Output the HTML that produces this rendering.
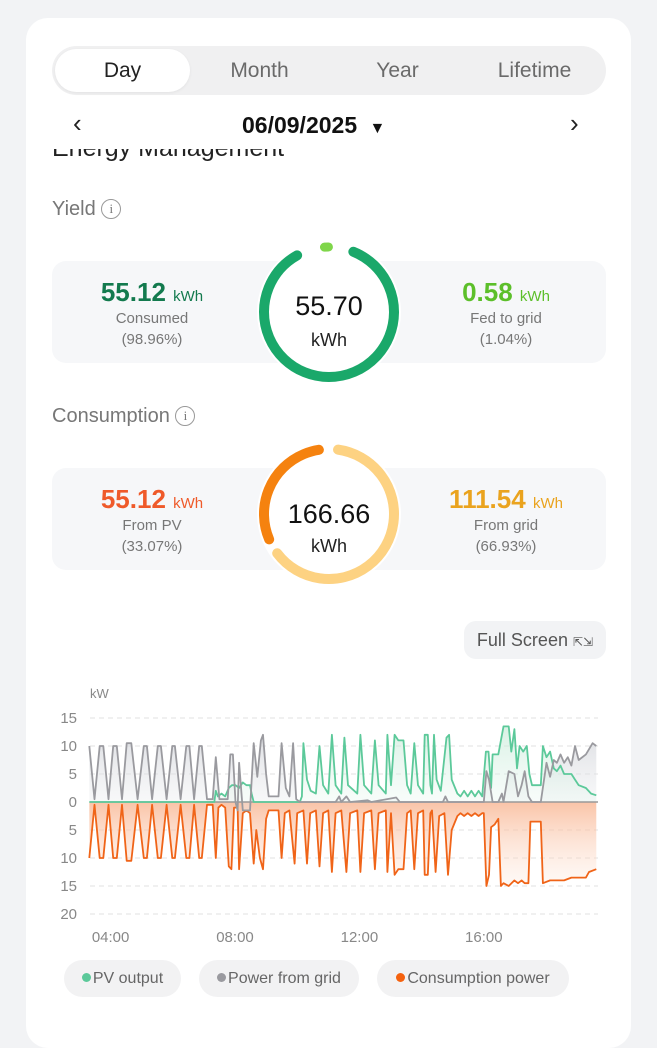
<!DOCTYPE html>
<html><head><meta charset="utf-8">
<style>
*{box-sizing:border-box;margin:0;padding:0}
body{width:657px;height:1024px;background:#f2f3f5;font-family:"Liberation Sans",sans-serif;position:relative;overflow:hidden}
.abs{position:absolute}
.card{left:26px;top:18px;width:605px;height:1030px;background:#fff;border-radius:22px}
.tabs{left:52px;top:46px;width:554px;height:49px;background:#f0f0f1;border-radius:25px}
.tab{position:absolute;top:0;height:49px;line-height:49px;font-size:21px;color:#6a6a6a;text-align:center}
.pill{left:3px;top:3px;width:135px;height:43px;background:#fff;border-radius:22px;box-shadow:0 1px 3px rgba(0,0,0,.06)}
.box{left:52px;width:554px;height:102px;background:#f6f7f9;border-radius:14px}
.big{font-size:26px;font-weight:bold}
.unit{font-size:15px;font-weight:normal}
.sub{font-size:15px;color:#777;line-height:21px}
.side{position:absolute;width:180px;text-align:center}
.lg{top:960px;height:37px;background:#f2f2f3;border-radius:19px;font-size:16px;color:#666;line-height:37px;text-align:center}
.dot{display:inline-block;width:9px;height:9px;border-radius:50%;margin-right:2px;vertical-align:1px}
</style></head><body>
<div class="abs card"></div>
<div class="abs" style="left:52px;top:134px;font-size:25px;line-height:29px;color:#222;white-space:nowrap">Energy Management</div>
<div class="abs" style="left:40px;top:100px;width:580px;height:49px;background:#fff"></div>
<div class="abs tabs">
  <div class="abs pill"></div>
  <div class="tab" style="left:3px;width:135px;color:#222">Day</div>
  <div class="tab" style="left:140px;width:135px">Month</div>
  <div class="tab" style="left:278px;width:135px">Year</div>
  <div class="tab" style="left:415px;width:135px">Lifetime</div>
</div>
<div class="abs" style="left:73px;top:108px;font-size:26px;color:#222">&#8249;</div>
<div class="abs" style="left:242px;top:112px;font-size:23px;font-weight:bold;color:#111">06/09/2025 <span style="font-size:16px;margin-left:6px">&#9660;</span></div>
<div class="abs" style="left:570px;top:108px;font-size:26px;color:#222">&#8250;</div>

<div class="abs" style="left:52px;top:198px;font-size:20px;color:#777">Yield <span style="display:inline-block;width:20px;height:20px;border:1.5px solid #999;border-radius:50%;font-size:13px;text-align:center;line-height:17px;vertical-align:2px;font-family:'Liberation Serif',serif">i</span></div>
<div class="abs box" style="top:261px">
  <div class="side" style="left:10px;top:16px"><div class="big" style="color:#137a4e">55.12 <span class="unit">kWh</span></div><div class="sub">Consumed<br>(98.96%)</div></div>
  <div class="side" style="left:364px;top:16px"><div class="big" style="color:#5cbf2a">0.58 <span class="unit">kWh</span></div><div class="sub">Fed to grid<br>(1.04%)</div></div>
</div>
<svg class="abs" style="left:254px;top:237px" width="150" height="150">
  <circle cx="75" cy="75" r="72" fill="#fff"/>
  <circle cx="75" cy="75" r="65" fill="none" stroke="#1aa86a" stroke-width="10" stroke-linecap="round" stroke-dasharray="350 58.4" transform="rotate(-68 75 75)"/>
  <circle cx="75" cy="75" r="65" fill="none" stroke="#7fd64a" stroke-width="9" stroke-linecap="round" stroke-dasharray="4 404.4" transform="rotate(-94 75 75)"/>
  <text x="75" y="78" text-anchor="middle" font-size="27" fill="#111" font-family="Liberation Sans">55.70</text>
  <text x="75" y="109" text-anchor="middle" font-size="18" fill="#222" font-family="Liberation Sans">kWh</text>
</svg>

<div class="abs" style="left:52px;top:405px;font-size:20px;color:#777">Consumption <span style="display:inline-block;width:20px;height:20px;border:1.5px solid #999;border-radius:50%;font-size:13px;text-align:center;line-height:17px;vertical-align:2px;font-family:'Liberation Serif',serif">i</span></div>
<div class="abs box" style="top:468px">
  <div class="side" style="left:10px;top:16px"><div class="big" style="color:#ef5a2a">55.12 <span class="unit">kWh</span></div><div class="sub">From PV<br>(33.07%)</div></div>
  <div class="side" style="left:364px;top:16px"><div class="big" style="color:#eaa31e">111.54 <span class="unit">kWh</span></div><div class="sub">From grid<br>(66.93%)</div></div>
</div>
<svg class="abs" style="left:254px;top:439px" width="150" height="150">
  <circle cx="75" cy="75" r="72" fill="#fff"/>
  <circle cx="75" cy="75" r="65" fill="none" stroke="#fdd282" stroke-width="10" stroke-linecap="round" stroke-dasharray="255 153.4" transform="rotate(-82 75 75)"/>
  <circle cx="75" cy="75" r="65" fill="none" stroke="#f5820f" stroke-width="10" stroke-linecap="round" stroke-dasharray="118 290.4" transform="rotate(157 75 75)"/>
  <text x="75" y="84" text-anchor="middle" font-size="27" fill="#111" font-family="Liberation Sans">166.66</text>
  <text x="75" y="113" text-anchor="middle" font-size="18" fill="#222" font-family="Liberation Sans">kWh</text>
</svg>

<div class="abs" style="left:464px;top:621px;width:142px;height:38px;background:#f2f3f5;border-radius:12px;font-size:18px;color:#555;line-height:38px;text-align:center">Full Screen <span style="font-size:12px">&#8689;&#8690;</span></div>

<svg class="abs" style="left:0;top:680px" width="657" height="270" id="chart"></svg>

<div class="abs lg" style="left:64px;width:117px"><span class="dot" style="background:#5cc99a"></span>PV output</div>
<div class="abs lg" style="left:199px;width:160px"><span class="dot" style="background:#9a9a9f"></span>Power from grid</div>
<div class="abs lg" style="left:377px;width:192px"><span class="dot" style="background:#f5620f"></span>Consumption power</div>

<script>
const yTicks=[15,10,5,0,-5,-10,-15,-20];
const xTickLabels=["04:00","08:00","12:00","16:00"];
const xTickMinutes=[240,480,720,960];
const gridMin=[199,209,219,226,236,245,252,262,271,280,292,304,310,320,331,337,348,359,364,375,386,392,401,411,416,426,437,443,450,466,471,476,481,485,488,495,509,516,523,530,534,540,545,564,570,578,585,592,598,605,674,681,685,695,702,736,743,791,798,881,886,891,960,965,970,977,988,995,998,1008,1019,1026,1033,1039,1046,1053,1070,1081,1088,1095,1101,1108,1115,1122,1129,1136,1143,1157,1170,1177];
const gridVal=[10,0.5,10,10,0.5,10,10,0.5,10.5,10.5,0.5,10,10,0.5,10,10,0.5,10,10,0.5,10,10,0.5,10,10,0.5,0.5,8,0.5,0.5,8.5,8.5,0,-1.5,7,-1.5,-1.5,10.5,4.5,11,12,5,1,1,10.5,2.5,1,10.5,0.5,0,0,1,0,1,0,0.3,0,0.8,0,0,1,0,0,5.5,4,0,0,1.5,0,5.5,5,1,3,5.5,1,0,0,7,4.5,7.5,7,8.5,7,8,6.5,10,7.5,8.5,10.5,10];
const pvMin=[199,440,443,447,454,461,468,474,481,488,495,502,509,512,516,605,609,612,619,626,636,643,650,660,667,674,685,691,698,716,722,729,743,750,757,771,774,781,788,795,805,812,819,826,833,843,846,852,857,860,864,869,877,888,893,898,909,915,922,929,936,943,950,957,964,969,974,977,988,998,1008,1013,1019,1024,1029,1036,1043,1048,1053,1070,1074,1081,1088,1095,1101,1108,1115,1129,1136,1143,1157,1167,1177];
const pvVal=[0,0,2,1,1.5,1,2.5,3,3,2.5,3.5,3,3,1.5,0,0,1,10.5,4,2,1.5,10,3,1.5,12,3,1.5,11.5,3,1.5,12,3,1.5,11,3,1.5,12,3,12,11,11,3,1.5,10.5,3,1.5,12,12,3,1.5,12,4,2,11.5,12,4,1.5,1,2,1,2,1,2,1,9,9,2.5,8.5,8.5,13.5,13.5,9,13,6,10,9,10,5,3,3,10,8,9,6,5.5,6.5,5,5,4,3,2.5,1.5,1.2];
const consMin=[199,209,219,226,236,245,252,262,271,280,292,304,310,320,331,337,348,359,364,375,386,392,401,411,416,426,437,443,448,454,461,468,473,478,485,488,495,502,509,516,521,528,534,540,545,564,570,576,585,595,600,612,619,625,636,643,650,660,667,674,685,695,702,716,722,729,743,750,757,771,774,781,788,795,805,812,819,826,833,843,846,852,857,860,867,874,884,891,898,909,915,922,929,936,943,950,957,960,965,970,974,981,988,993,998,1008,1019,1026,1033,1039,1046,1050,1070,1074,1088,1101,1115,1129,1157,1163,1177];
const consVal=[10,0.5,10,10,0.5,10,10,0.5,10.5,10.5,0.5,10,10,0.5,10,10,0.5,10,10,0.5,10,10,0.5,10,10,0.5,0.5,10,1,0.5,1,11.5,12,1,1,12,2,1.5,2,11,5,10,12,3,1.5,1.5,10,2,1.5,11,2,1.5,11,2,1.5,11.5,2,1.5,12.5,2,1.5,12.5,2,1.5,12.5,2,1.5,12,2,1.5,12.5,2,13,12,12,2,1.5,12,2,1.5,13,13,2,1.5,12.5,2.5,2,13,5,2.5,2,2.5,2,2.5,2,2.5,2,2,15,13,4.5,4,3,15,14.5,15,14,14.5,14,14.5,14.5,3.5,3.5,14.5,14,14,14,13.5,13.5,12.5,12];

const svg=document.getElementById('chart');
const NS='http://www.w3.org/2000/svg';
const x0=110.6, pxPerMin=31.1/60, yZero=122, pxPerKw=5.6;
function sx(m){return x0+(m-240)*pxPerMin;}
function sy(v){return yZero-v*pxPerKw;}
function mk(tag,attrs){const e=document.createElementNS(NS,tag);for(const k in attrs)e.setAttribute(k,attrs[k]);svg.appendChild(e);return e;}

svg.innerHTML='<defs><linearGradient id="og" x1="0" y1="0" x2="0" y2="1"><stop offset="0" stop-color="#f8b08a" stop-opacity="0.75"/><stop offset="1" stop-color="#fde3d4" stop-opacity="0.2"/></linearGradient><linearGradient id="gg" x1="0" y1="0" x2="0" y2="1"><stop offset="0" stop-color="#d0d2d8" stop-opacity="0.7"/><stop offset="1" stop-color="#eceef0" stop-opacity="0.3"/></linearGradient><linearGradient id="pg" x1="0" y1="0" x2="0" y2="1"><stop offset="0" stop-color="#bfe8d3" stop-opacity="0.6"/><stop offset="1" stop-color="#e6f6ee" stop-opacity="0.3"/></linearGradient></defs>';

const unitLbl=mk('text',{x:90,y:18,'font-size':13,fill:'#888','font-family':'Liberation Sans'});
unitLbl.textContent='kW';



yTicks.forEach(t=>{
  const y=sy(t);
  if(t!==0){
    const g=mk('line',{x1:90,x2:598,y1:y,y2:y,stroke:'#e2e2e2','stroke-dasharray':'5 4','stroke-width':1});
    
    
  }
  const l=mk('text',{x:77,y:y+5,'text-anchor':'end','font-size':15,fill:'#888','font-family':'Liberation Sans'});
  l.textContent=Math.abs(t);
  
  
});
xTickLabels.forEach((s,i)=>{
  const l=mk('text',{x:sx(xTickMinutes[i]),y:262,'text-anchor':'middle','font-size':15,fill:'#888','font-family':'Liberation Sans'});
  l.textContent=s;
  
  
});

function pts(ms,vs,sign){return ms.map((m,i)=>sx(m).toFixed(1)+','+sy(vs[i]*sign).toFixed(1)).join(' ');}
function area(ms,vs,sign,fill,name){
  const d='M'+sx(ms[0])+','+yZero+' L'+pts(ms,vs,sign).split(' ').join(' L')+' L'+sx(ms[ms.length-1])+','+yZero+'Z';
  const a=mk('path',{d:d,fill:fill,stroke:'none'});
  
  
}
function line(ms,vs,sign,col,name){
  const l=mk('polyline',{points:pts(ms,vs,sign),fill:'none',stroke:col,'stroke-width':1.8,'stroke-linejoin':'round'});
  
  
}
area(consMin,consVal,-1,'url(#og)','consumption-area');
area(gridMin,gridVal,1,'url(#gg)','grid-area');
area(pvMin,pvVal,1,'url(#pg)','pv-area');
const zl=mk('line',{x1:90,x2:598,y1:yZero,y2:yZero,stroke:'#999','stroke-width':1.5});


line(consMin,consVal,-1,'#f06418','consumption-power-line');
line(pvMin,pvVal,1,'#5cc99a','pv-output-line');
line(gridMin,gridVal,1,'#9a9a9f','power-from-grid-line');
</script>
</body></html>
